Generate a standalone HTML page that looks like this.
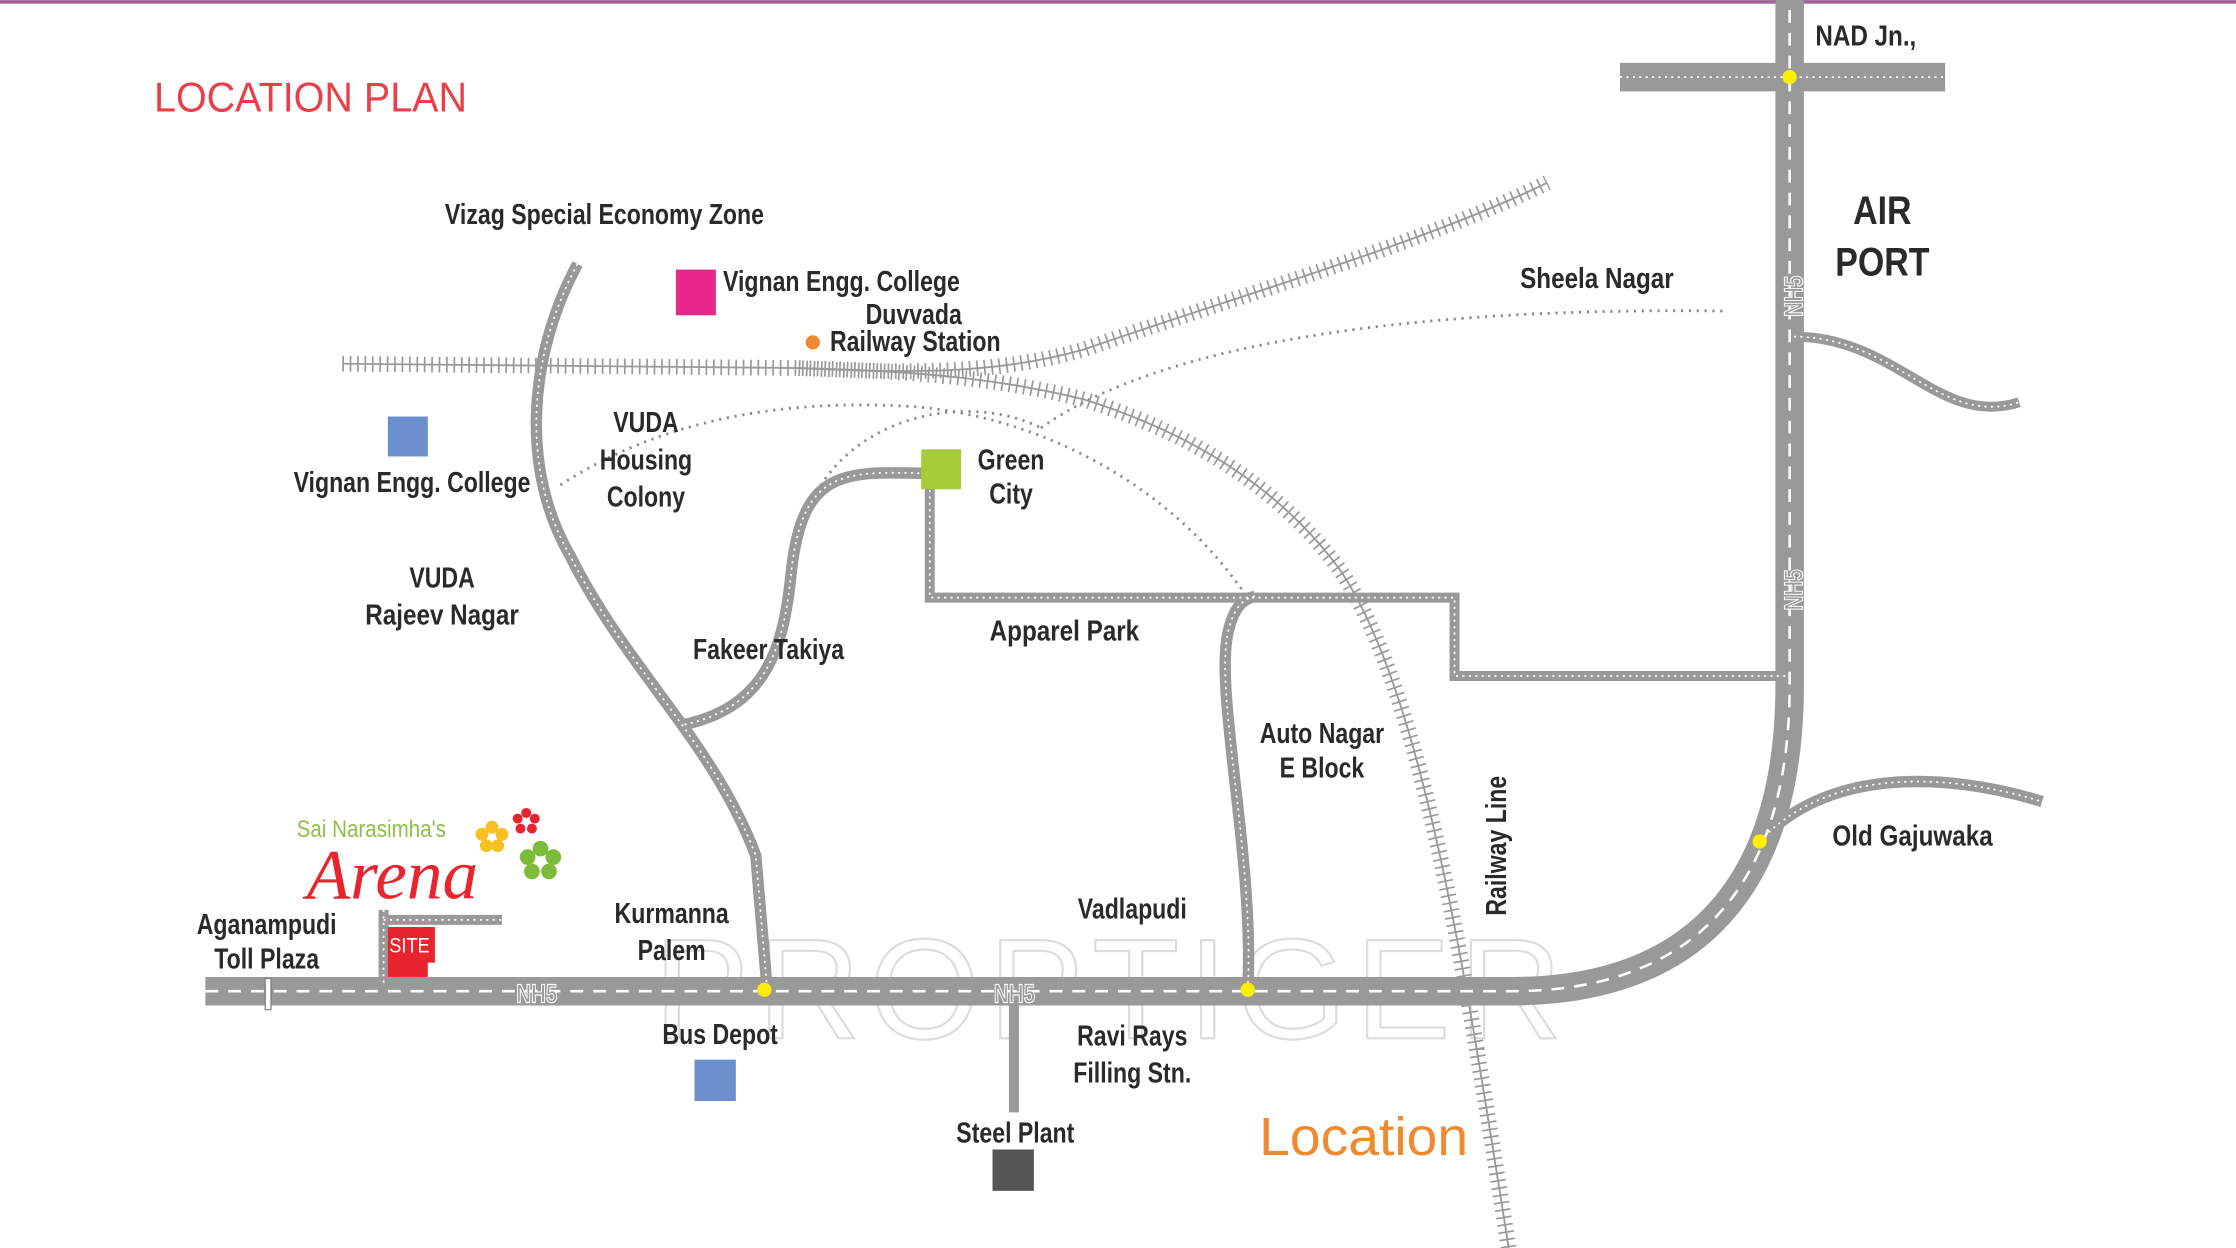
<!DOCTYPE html>
<html><head><meta charset="utf-8"><style>
html,body{margin:0;padding:0;background:#fff;}
svg{display:block}
.t text{font-family:"Liberation Sans",sans-serif;font-weight:bold;fill:#2a2a2a;font-size:20px}
</style></head><body>
<svg width="2236" height="1248" viewBox="0 0 1568 875" xmlns="http://www.w3.org/2000/svg">
<rect x="0" y="0" width="1568" height="2.5" fill="#a0609a"/>
<text x="108" y="78" font-family="Liberation Sans,sans-serif" font-size="29" fill="#e8404a" transform="translate(108 0) scale(0.955 1) translate(-108 0)">LOCATION PLAN</text>

<text x="780" y="728" text-anchor="middle" font-family="Liberation Sans,sans-serif" font-size="100" fill="none" stroke="#dcdcdc" stroke-width="1.5" letter-spacing="6">PROPTIGER</text>

<g fill="none" stroke="#8a8a8a" stroke-width="2" stroke-dasharray="1.5 4">
<path d="M393,340 C470,290 560,280 640,285 C730,292 820,340 872,415"/>
<path d="M570,350 C600,290 680,275 730,300"/>
<path d="M730,300 C800,250 950,215 1208,218"/>
</g>

<g fill="none" stroke="#9a9a9a">
<path d="M240,255 L560,258 C640,260 700,265 760,280 C840,305 900,345 940,400 C1000,490 1030,700 1058,875" stroke-width="1.3"/>
<path d="M240,255 L560,258 C640,260 700,265 760,280 C840,305 900,345 940,400 C1000,490 1030,700 1058,875" stroke-width="11" stroke-dasharray="1.2 4"/>
<path d="M560,258 C640,262 700,262 760,245 C860,210 1000,170 1085,128" stroke-width="1.3"/>
<path d="M560,258 C640,262 700,262 760,245 C860,210 1000,170 1085,128" stroke-width="11" stroke-dasharray="1.2 4"/>
</g>

<g fill="none" stroke="#999999">
<path d="M405,185 C370,250 365,330 400,390 C440,470 500,520 530,600 L538,694" stroke-width="8"/>
<path d="M480,508 C540,495 550,450 555,400 C563,330 590,330 650,332" stroke-width="8"/>
<path d="M652,330 V419 H1020 V474 H1255" stroke-width="7"/>
<path d="M875,694 C880,600 850,480 862,440 C866,425 872,420 880,418" stroke-width="8"/>
<path d="M1234,590 C1280,540 1360,540 1432,562" stroke-width="8"/>
<path d="M1258,236 C1330,236 1360,300 1416,282" stroke-width="7"/>
<path d="M711,695 V780" stroke-width="7"/>
<path d="M269,638 V690 M269,645 H352" stroke-width="7"/>
<path d="M1136,54 H1364" stroke-width="20"/>
<path d="M144,695 H1060 C1170,695 1255,640 1255,480 V0" stroke-width="20"/>
</g>
<g fill="none" stroke="#fff" stroke-width="1.2" stroke-dasharray="1.5 3">
<path d="M405,185 C370,250 365,330 400,390 C440,470 500,520 530,600 L538,694"/>
<path d="M480,508 C540,495 550,450 555,400 C563,330 590,330 650,332"/>
<path d="M652,330 V419 H1020 V474 H1255"/>
<path d="M875,694 C880,600 850,480 862,440 C866,425 872,420 880,418"/>
<path d="M1234,590 C1280,540 1360,540 1432,562"/>
<path d="M1258,236 C1330,236 1360,300 1416,282"/>
<path d="M269,638 V690 M269,645 H352"/>
<path d="M1136,54 H1364"/>
</g>
<path d="M144,695 H1060 C1170,695 1255,640 1255,480 V0" fill="none" stroke="#fff" stroke-width="1.8" stroke-dasharray="9 7"/>
<rect x="186" y="686" width="4" height="22" fill="#fff" stroke="#777" stroke-width="0.8"/>

<g fill="#ffee00"><circle cx="1255" cy="54" r="5"/><circle cx="536" cy="694" r="5"/><circle cx="875" cy="694" r="5"/><circle cx="1234" cy="590" r="5"/></g>

<rect x="474" y="189" width="28" height="32" fill="#e8268a"/>
<rect x="272" y="292" width="28" height="28" fill="#6a8fcc"/>
<rect x="646" y="315" width="28" height="28" fill="#a6cc3a"/>
<rect x="487" y="743" width="29" height="29" fill="#6a8fcc"/>
<rect x="696" y="806" width="29" height="29" fill="#555"/>
<circle cx="570" cy="240" r="5" fill="#f08a30"/>
<rect x="272" y="650" width="28" height="35" fill="#e8242e"/>
<rect x="299" y="650" width="6" height="25" fill="#e8242e"/>
<text transform="translate(273 668) scale(.85 1)" font-family="Liberation Sans,sans-serif" font-size="15" fill="#fff">SITE</text>

<g font-family="Liberation Sans,sans-serif" font-weight="bold" font-size="18" fill="#999" stroke="#fff" stroke-width="0.8">
<text transform="translate(362 703) scale(.8 1)">NH5</text>
<text transform="translate(697 703) scale(.8 1)">NH5</text>
<text transform="translate(1264 222) rotate(-90) scale(.8 1)">NH5</text>
<text transform="translate(1264 428) rotate(-90) scale(.8 1)">NH5</text>
</g>

<g class="t">
<text transform="translate(312 157) scale(.81 1)">Vizag Special Economy Zone</text>
<text transform="translate(507 204) scale(.81 1)">Vignan Engg. College</text>
<text transform="translate(607 227) scale(.81 1)">Duvvada</text>
<text transform="translate(582 246) scale(.81 1)">Railway Station</text>
<text transform="translate(1066 202) scale(.85 1)">Sheela Nagar</text>
<text transform="translate(1273 32) scale(.85 1)">NAD Jn.,</text>
<text transform="translate(1320 157) scale(.85 1)" text-anchor="middle" style="font-size:28px">AIR</text>
<text transform="translate(1320 193) scale(.85 1)" text-anchor="middle" style="font-size:28px">PORT</text>
<text transform="translate(372 345) scale(.81 1)" text-anchor="end">Vignan Engg. College</text>
<text transform="translate(453 303) scale(.81 1)" text-anchor="middle">VUDA</text>
<text transform="translate(453 329) scale(.81 1)" text-anchor="middle">Housing</text>
<text transform="translate(453 355) scale(.81 1)" text-anchor="middle">Colony</text>
<text transform="translate(709 329) scale(.81 1)" text-anchor="middle">Green</text>
<text transform="translate(709 353) scale(.81 1)" text-anchor="middle">City</text>
<text transform="translate(310 412) scale(.81 1)" text-anchor="middle">VUDA</text>
<text transform="translate(310 438) scale(.85 1)" text-anchor="middle">Rajeev Nagar</text>
<text transform="translate(486 462) scale(.81 1)">Fakeer Takiya</text>
<text transform="translate(694 449) scale(.85 1)">Apparel Park</text>
<text transform="translate(927 521) scale(.81 1)" text-anchor="middle">Auto Nagar</text>
<text transform="translate(927 545) scale(.81 1)" text-anchor="middle">E Block</text>
<text transform="translate(1056 642) rotate(-90) scale(.81 1)">Railway Line</text>
<text transform="translate(1285 593) scale(.85 1)">Old Gajuwaka</text>
<text transform="translate(794 644) scale(.81 1)" text-anchor="middle">Vadlapudi</text>
<text transform="translate(471 647) scale(.81 1)" text-anchor="middle">Kurmanna</text>
<text transform="translate(471 673) scale(.81 1)" text-anchor="middle">Palem</text>
<text transform="translate(187 655) scale(.81 1)" text-anchor="middle">Aganampudi</text>
<text transform="translate(187 679) scale(.81 1)" text-anchor="middle">Toll Plaza</text>
<text transform="translate(505 732) scale(.81 1)" text-anchor="middle">Bus Depot</text>
<text transform="translate(794 733) scale(.81 1)" text-anchor="middle">Ravi Rays</text>
<text transform="translate(794 759) scale(.81 1)" text-anchor="middle">Filling Stn.</text>
<text transform="translate(712 801) scale(.81 1)" text-anchor="middle">Steel Plant</text>
</g>
<text x="883" y="810" font-family="Liberation Sans,sans-serif" font-size="38" fill="#f08a30" transform="translate(883 0) scale(1.02 1) translate(-883 0)">Location</text>

<text transform="translate(208 587) scale(.85 1)" font-family="Liberation Sans,sans-serif" font-size="17" fill="#8cc04a">Sai Narasimha's</text>
<text x="215" y="630" font-family="Liberation Serif,serif" font-style="italic" font-size="50" fill="#e8242e">Arena</text>
<g>
<g fill="#e8242e"><circle cx="369" cy="570" r="3.5"/><circle cx="375" cy="574" r="3.5"/><circle cx="373" cy="581" r="3.5"/><circle cx="365" cy="581" r="3.5"/><circle cx="363" cy="574" r="3.5"/></g>
<g fill="#f8c020"><circle cx="345" cy="580" r="4.5"/><circle cx="352" cy="585" r="4.5"/><circle cx="349" cy="593" r="4.5"/><circle cx="341" cy="593" r="4.5"/><circle cx="338" cy="585" r="4.5"/></g>
<g fill="#7cbc3a"><circle cx="379" cy="595" r="5.5"/><circle cx="388" cy="601" r="5.5"/><circle cx="385" cy="611" r="5.5"/><circle cx="373" cy="611" r="5.5"/><circle cx="370" cy="601" r="5.5"/></g>
</g>
</svg>
</body></html>
